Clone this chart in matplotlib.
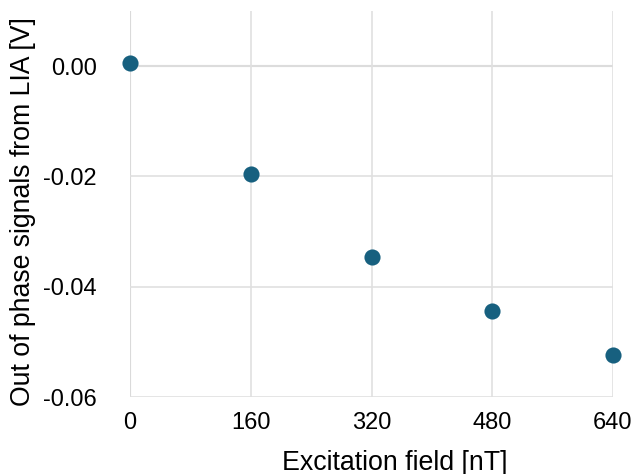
import matplotlib
matplotlib.use("Agg")
import matplotlib.pyplot as plt

field_nT = [0, 160, 320, 480, 640]
signal_V = [0.00054, -0.01964, -0.03466, -0.04434, -0.0524]
xticks = [0, 160, 320, 480, 640]
yticks = [-0.06, -0.04, -0.02, 0.00]
ytick_labels = ["-0.06", "-0.04", "-0.02", "0.00"]

plt.rcParams['font.family'] = ['Liberation Sans', 'DejaVu Sans']

fig = plt.figure(figsize=(6.32, 4.74), dpi=100)
ax = fig.add_axes([130/632, 1-397/474, 483/632, 386/474])

ax.set_xlim(0, 640)
ax.set_ylim(-0.06, 0.01)
ax.set_xticks(xticks)
ax.set_yticks(yticks)
ax.set_yticklabels(ytick_labels)
ax.tick_params(length=0, labelsize=17, colors='#000000')
ax.tick_params(axis='x', pad=11)
ax.tick_params(axis='y', pad=23.8)

for s in ax.spines.values():
    s.set_visible(False)

ax.grid(True, color='#e0e0e0', linewidth=1.2, zorder=0)
ax.axhline(0, color='#cccccc', linewidth=1.5, zorder=1)
ax.axvline(0, color='#c0c0c0', linewidth=1.5, zorder=1)

ax.scatter(field_nT, signal_V, s=135, color='#17607f', zorder=3, clip_on=False, linewidths=0)

ax.set_xlabel("Excitation field [nT]", fontsize=19.3)
ax.xaxis.set_label_coords((395-130)/483, (397-463)/386)
ax.xaxis.label.set_va('center')
ax.set_ylabel("Out of phase signals from LIA [V]", fontsize=19.2)
ax.yaxis.set_label_coords((23-130)/483, (397-211.5)/386)
ax.yaxis.label.set_va('center')

fig.savefig("out.png", dpi=100)
